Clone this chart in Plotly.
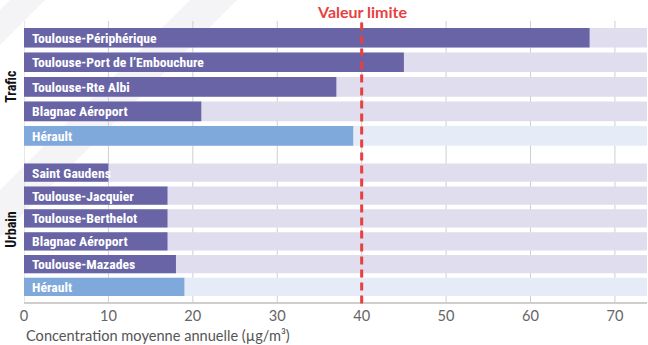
import plotly.graph_objects as go

# Annual mean NO2 concentration by monitoring station (µg/m³)
TRAFIC_STATIONS = ["Toulouse-Périphérique", "Toulouse-Port de l’Embouchure",
                   "Toulouse-Rte Albi", "Blagnac Aéroport", "Hérault"]
TRAFIC_VALUES = [67, 45, 37, 21, 39]

URBAIN_STATIONS = ["Saint Gaudens", "Toulouse-Jacquier", "Toulouse-Berthelot",
                   "Blagnac Aéroport", "Toulouse-Mazades", "Hérault"]
URBAIN_VALUES = [10, 17, 17, 17, 18, 19]

REGIONAL = "Hérault"          # highlighted in blue
LIMIT_VALUE = 40               # valeur limite annuelle
X_MAX = 73.8
X_TICKS = [0, 10, 20, 30, 40, 50, 60, 70]

PURPLE = "#6864A6"
PURPLE_BG = "#E0DDEE"
BLUE = "#7FA9DB"
BLUE_BG = "#E5EBF7"
RED = "#E8403F"
LABEL_FONT = "Roboto Condensed, Roboto, sans-serif"
TICK_FONT = "Lato, sans-serif"

W, H = 648, 345
M = dict(l=24, r=1, t=21, b=42)

fig = go.Figure()


def add_group(names, values, xa, ya):
    bg = [BLUE_BG if n == REGIONAL else PURPLE_BG for n in names]
    fg = [BLUE if n == REGIONAL else PURPLE for n in names]
    fig.add_trace(go.Bar(y=names, x=[X_MAX] * len(names), orientation="h",
                         marker=dict(color=bg, line=dict(width=0)),
                         hoverinfo="skip", xaxis=xa, yaxis=ya))
    fig.add_trace(go.Bar(y=names, x=values, orientation="h",
                         marker=dict(color=fg, line=dict(width=0)),
                         xaxis=xa, yaxis=ya))
    for n in names:
        fig.add_annotation(x=0, y=n, xref=xa, yref=ya, text=n, showarrow=False,
                           xanchor="left", xshift=6,
                           font=dict(family=LABEL_FONT, size=13.7, color="white",
                                     weight="bold"))


add_group(TRAFIC_STATIONS, TRAFIC_VALUES, "x", "y")
add_group(URBAIN_STATIONS, URBAIN_VALUES, "x2", "y2")


# faint diagonal background bands (page decoration)
def px_to_paper(px, py):
    pw = W - M["l"] - M["r"]
    ph = H - M["t"] - M["b"]
    return (px - M["l"]) / pw, (H - M["b"] - py) / ph


for a, b in [(10, 45), (190, 237)]:
    pts = [px_to_paper(*p) for p in [(0, a), (a, 0), (b, 0), (0, b)]]
    path = "M " + " L ".join(f"{x:.4f},{y:.4f}" for x, y in pts) + " Z"
    fig.add_shape(type="path", xref="paper", yref="paper", path=path,
                  fillcolor="#F4F4F6", line=dict(width=0), layer="below")

# vertical gridlines spanning both groups
for t in X_TICKS:
    fig.add_shape(type="line", xref="x2", yref="paper", x0=t, x1=t, y0=0, y1=1,
                  line=dict(color="#CFCFCF", width=1), layer="below")

# limit value
fig.add_shape(type="line", xref="x2", yref="paper", x0=LIMIT_VALUE, x1=LIMIT_VALUE,
              y0=-0.002, y1=0.995, line=dict(color=RED, width=3, dash="8px,5px"),
              layer="above")
fig.add_annotation(x=LIMIT_VALUE, y=1, xref="x2", yref="paper", yanchor="bottom",
                   yshift=-1, text="Valeur limite", showarrow=False, borderpad=0,
                   font=dict(family=TICK_FONT, size=16, color=RED, weight="bold"))

# group labels
for txt, ya in [("Trafic", "y domain"), ("Urbain", "y2 domain")]:
    fig.add_annotation(x=0, y=0.5, xref="paper", yref=ya, text=txt, textangle=-90,
                       showarrow=False, xanchor="center", yanchor="middle", xshift=-13,
                       font=dict(family=LABEL_FONT, size=14, color="#111111",
                                 weight="bold"))

fig.add_annotation(x=0, y=0, xref="paper", yref="paper", xanchor="left",
                   yanchor="top", yshift=-22, showarrow=False,
                   text="Concentration moyenne annuelle (µg/m³)",
                   font=dict(family=TICK_FONT, size=14.6, color="#555555"))

fig.update_layout(
    width=W, height=H,
    margin=M,
    barmode="overlay",
    showlegend=False,
    paper_bgcolor="white",
    plot_bgcolor="rgba(0,0,0,0)",
    xaxis=dict(domain=[0, 1], range=[0, X_MAX], anchor="y", matches="x2",
               showticklabels=False, showgrid=False, zeroline=False),
    yaxis=dict(domain=[0.549, 0.984], autorange="reversed", showticklabels=False,
               showgrid=False, zeroline=False),
    xaxis2=dict(domain=[0, 1], range=[0, X_MAX], anchor="free", position=0,
                tickvals=X_TICKS, showgrid=False, zeroline=False,
                showline=True, linecolor="#CFCFCF", linewidth=1.5,
                ticklabelstandoff=0,
                tickfont=dict(family=TICK_FONT, size=14.6, color="#666666")),
    yaxis2=dict(domain=[0.0163, 0.5025], autorange="reversed", showticklabels=False,
                showgrid=False, zeroline=False),
    bargap=0.2,
)
fig.update_yaxes(fixedrange=True)

fig.write_html("out.html")
